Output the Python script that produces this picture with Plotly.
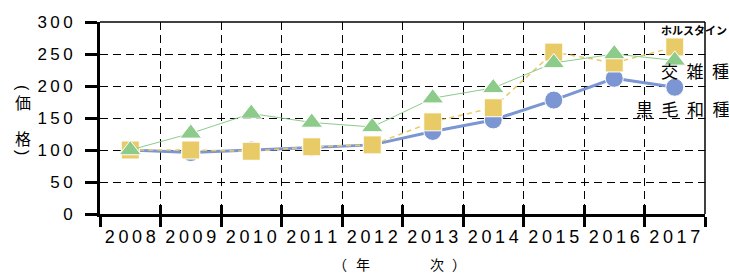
import plotly.graph_objects as go

years = ["2008", "2009", "2010", "2011", "2012", "2013", "2014", "2015", "2016", "2017"]
wagyu = [100, 96, 100, 104, 108, 129, 147, 178, 212, 198]        # 黒毛和種
holstein = [100, 100, 98, 105, 108, 144, 166, 253, 236, 261]      # ホルスタイン
cross = [100, 126, 157, 143, 136, 181, 197, 236, 250, 240]        # 交雑種
y_ticks = [0, 50, 100, 150, 200, 250, 300]

TS = "\u2009"
x_ticktext = [TS.join(list(y)) for y in years]
y_ticktext = [TS.join(list(str(v))) for v in y_ticks]

BLUE = "#7B96D2"
GREEN = "#8CCB8A"
YELLOW = "#E8CB66"
LATIN = "Liberation Sans, Arial, sans-serif"
CJK = "Noto Sans CJK JP, sans-serif"

fig = go.Figure()
fig.add_trace(go.Scatter(
    x=years, y=wagyu, mode="lines+markers", name="黒毛和種",
    line=dict(color=BLUE, width=3),
    marker=dict(symbol="circle", size=18, color=BLUE, line=dict(color="white", width=1)),
))
fig.add_trace(go.Scatter(
    x=years, y=holstein, mode="lines+markers", name="ホルスタイン",
    line=dict(color=YELLOW, width=1.5, dash="5px,4px"),
    marker=dict(symbol="square", size=18, color=YELLOW, line=dict(color="white", width=1)),
))
fig.add_trace(go.Scatter(
    x=years, y=cross, mode="lines+markers", name="交雑種",
    line=dict(color=GREEN, width=1),
    marker=dict(symbol="triangle-up", size=19, color=GREEN, line=dict(color="white", width=1)),
))
# overlay axis used only for the inside half of the x ticks
fig.add_trace(go.Scatter(x=years, y=[None] * len(years), xaxis="x2", showlegend=False,
                         hoverinfo="skip", mode="lines"))

fig.update_layout(
    width=729, height=275,
    margin=dict(l=100, r=24, t=22, b=61),
    paper_bgcolor="white", plot_bgcolor="white",
    showlegend=False,
    font=dict(family=LATIN, color="black"),
    xaxis=dict(
        type="category", categoryorder="array", categoryarray=years,
        range=[-0.5, 9.5],
        tickson="boundaries",
        tickvals=years, ticktext=x_ticktext, tickangle=0,
        ticks="outside", ticklen=10, tickwidth=3, tickcolor="black",
        showline=True, linewidth=3, linecolor="black",
        showgrid=True, gridcolor="black", gridwidth=1, griddash="8px,5px",
        tickfont=dict(size=18, family=LATIN, color="black"),
        ticklabelstandoff=4,
        zeroline=False,
    ),
    xaxis2=dict(
        type="category", categoryorder="array", categoryarray=years,
        range=[-0.5, 9.5], overlaying="x", side="bottom",
        tickson="boundaries",
        ticks="inside", ticklen=9, tickwidth=3, tickcolor="black",
        showticklabels=False, showgrid=False, showline=False, zeroline=False,
    ),
    yaxis=dict(
        range=[0, 300],
        tickvals=y_ticks, ticktext=y_ticktext,
        ticks="outside", ticklen=12, tickwidth=3, tickcolor="black",
        showline=True, linewidth=3, linecolor="black",
        showgrid=True, gridcolor="black", gridwidth=1, griddash="8px,5px",
        tickfont=dict(size=17, family=LATIN, color="black"),
        ticklabelstandoff=9,
        zeroline=False,
    ),
    shapes=[
        dict(type="line", xref="paper", yref="paper", x0=0, x1=1, y0=1, y1=1,
             line=dict(color="black", width=1.5)),
        dict(type="line", xref="paper", yref="paper", x0=1, x1=1, y0=0, y1=1,
             line=dict(color="black", width=1.5)),
    ],
)

def px_x(px):
    return (px - 100) / 605.0

def px_y(py):
    return (214 - py) / 192.0

EN = "\u2002"
ann = []
# series labels
ann.append(dict(text="<b>ホルスタイン</b>", x=px_x(659), y=px_y(30), xanchor="left", yanchor="middle",
                font=dict(family=CJK, size=11, color="black")))
ann.append(dict(text=EN.join("交雑種"), x=px_x(659), y=px_y(70), xanchor="left", yanchor="middle",
                font=dict(family=CJK, size=17, color="black")))
ann.append(dict(text=EN.join("黒毛和種"), x=px_x(634), y=px_y(108), xanchor="left", yanchor="middle",
                font=dict(family=CJK, size=17, color="black")))
# x title pieces
for ch, px in [("（", 340), ("年", 363), ("次", 437), ("）", 459)]:
    ann.append(dict(text=ch, x=px_x(px), y=px_y(264), xanchor="center", yanchor="middle",
                    font=dict(family=CJK, size=14, color="black")))
# y title (vertical)
ann.append(dict(text="(", x=px_x(23), y=px_y(88), xanchor="center", yanchor="middle", textangle=90,
                font=dict(family=LATIN, size=16, color="black")))
ann.append(dict(text="価", x=px_x(23), y=px_y(102), xanchor="center", yanchor="middle",
                font=dict(family=CJK, size=16, color="black")))
ann.append(dict(text="格", x=px_x(23), y=px_y(138), xanchor="center", yanchor="middle",
                font=dict(family=CJK, size=16, color="black")))
ann.append(dict(text=")", x=px_x(23), y=px_y(152), xanchor="center", yanchor="middle", textangle=90,
                font=dict(family=LATIN, size=16, color="black")))
for a in ann:
    a.update(xref="paper", yref="paper", showarrow=False)
fig.update_layout(annotations=ann)

fig.write_html("out.html", post_script="document.body.style.margin='0';",
               config={"displayModeBar": False})
